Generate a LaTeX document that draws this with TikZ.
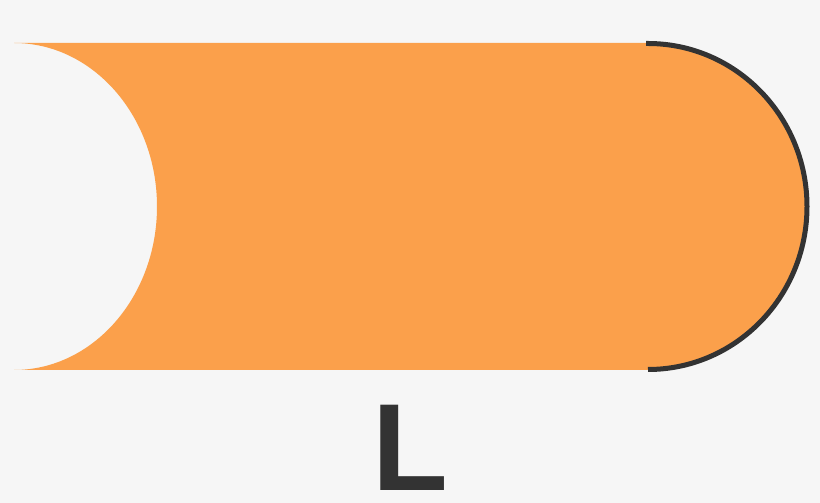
\documentclass[tikz,border=0pt]{standalone}
\usepackage{fontspec}
\setsansfont{Liberation Sans}
\definecolor{shapeorange}{HTML}{FBA04B}
\definecolor{darkgrey}{HTML}{333333}
\definecolor{backgrey}{HTML}{F6F6F6}
\tikzset{
    rim/.style = {draw=darkgrey, line width=5pt},
    lengthlabel/.style = {text=darkgrey, inner sep=0pt,
        font=\sffamily\bfseries\fontsize{124}{124}\selectfont},
}
\begin{document}
\begin{tikzpicture}[x=1pt, y=1pt]
        % Background
        \fill [backgrey] (0,0) rectangle (820,503);
        \useasboundingbox (0,0) rectangle (820,503);
        % Orange body
        \fill [shapeorange] (14,460) -- (648,460)
            arc [start angle=90, end angle=-90, x radius=159, y radius=163.5]
            -- (14,133)
            arc [start angle=-90, end angle=90, x radius=143, y radius=163.5]
            -- cycle;
        % Rounded end
        \draw [rim] (646,459.5) -- (648,459.5)
            arc [start angle=90, end angle=-90, x radius=159, y radius=163];
        % Label
        \node [lengthlabel, anchor=base west] (len) at (372,12) {L};
    \end{tikzpicture}
\end{document}
